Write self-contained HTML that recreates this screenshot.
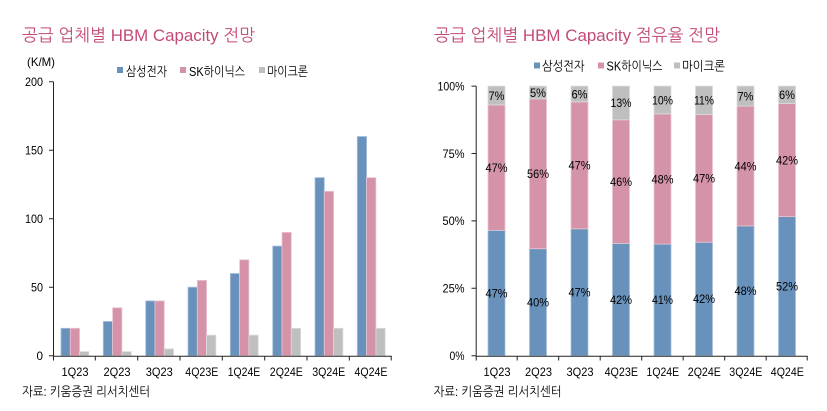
<!DOCTYPE html>
<html><head><meta charset="utf-8"><style>
html,body{margin:0;padding:0;background:#fff;}
svg{display:block;}
text{font-family:"Liberation Sans","NanumGothic","Noto Sans CJK KR",sans-serif;fill:#000;}
.t{fill:#C44A78;font-size:17px;}
.k{font-size:13px;}
.n{font-size:12px;}
.b{fill:#6891BC;stroke:#A9C0DA;stroke-width:0.8;}
.p{fill:#D493A8;stroke:#EBC6D2;stroke-width:0.8;}
.g{fill:#BFBFBF;stroke:#DCDCDC;stroke-width:0.8;}
.ax{stroke:#222;stroke-width:1;fill:none;}
</style></head><body>
<svg width="827" height="411" viewBox="0 0 827 411" xmlns="http://www.w3.org/2000/svg">
<!-- LEFT CHART -->
<text class="t" x="22" y="41" textLength="233" lengthAdjust="spacingAndGlyphs">공급 업체별 HBM Capacity 전망</text>
<text class="n" x="27" y="66" textLength="28" lengthAdjust="spacingAndGlyphs">(K/M)</text>
<rect x="117" y="67" width="6" height="6" fill="#6891BC"/>
<text class="k" x="126" y="76" textLength="41" lengthAdjust="spacingAndGlyphs">삼성전자</text>
<rect x="180" y="67" width="6" height="6" fill="#D493A8"/>
<text class="k" x="189" y="76" textLength="56" lengthAdjust="spacingAndGlyphs">SK하이닉스</text>
<rect x="259" y="67" width="6" height="6" fill="#BFBFBF"/>
<text class="k" x="267" y="76" textLength="41" lengthAdjust="spacingAndGlyphs">마이크론</text>

<!-- bars -->
<rect class="b" x="61.0" y="328.3" width="9.3" height="27.4"/><rect class="p" x="70.3" y="328.3" width="9.3" height="27.4"/><rect class="g" x="79.6" y="351.6" width="9.3" height="4.1"/>
<rect class="b" x="103.3" y="321.45" width="9.3" height="34.25"/><rect class="p" x="112.6" y="307.75" width="9.3" height="47.95"/><rect class="g" x="121.9" y="351.6" width="9.3" height="4.1"/>
<rect class="b" x="145.7" y="300.9" width="9.3" height="54.8"/><rect class="p" x="155.0" y="300.9" width="9.3" height="54.8"/><rect class="g" x="164.3" y="348.85" width="9.3" height="6.85"/>
<rect class="b" x="188.0" y="287.2" width="9.3" height="68.5"/><rect class="p" x="197.3" y="280.35" width="9.3" height="75.35"/><rect class="g" x="206.6" y="335.15" width="9.3" height="20.55"/>
<rect class="b" x="230.3" y="273.5" width="9.3" height="82.2"/><rect class="p" x="239.6" y="259.8" width="9.3" height="95.9"/><rect class="g" x="248.9" y="335.15" width="9.3" height="20.55"/>
<rect class="b" x="272.7" y="246.1" width="9.3" height="109.6"/><rect class="p" x="282.0" y="232.4" width="9.3" height="123.3"/><rect class="g" x="291.3" y="328.3" width="9.3" height="27.4"/>
<rect class="b" x="315.0" y="177.6" width="9.3" height="178.1"/><rect class="p" x="324.3" y="191.3" width="9.3" height="164.4"/><rect class="g" x="333.6" y="328.3" width="9.3" height="27.4"/>
<rect class="b" x="357.3" y="136.5" width="9.3" height="219.2"/><rect class="p" x="366.6" y="177.6" width="9.3" height="178.1"/><rect class="g" x="375.9" y="328.3" width="9.3" height="27.4"/>

<!-- axes -->
<path class="ax" d="M53.5 81.7V356.2M53.5 356.2H391.7"/>
<path class="ax" d="M49 81.7H53.5M49 150.2H53.5M49 218.7H53.5M49 287.2H53.5M49 355.7H53.5"/>
<path class="ax" d="M53.5 356V360.5M95.3 356V360.5M137.7 356V360.5M180 356V360.5M222.3 356V360.5M264.7 356V360.5M307 356V360.5M349.3 356V360.5M391.2 356V360.5"/>
<g class="n" text-anchor="end">
<text x="43" y="86" textLength="18" lengthAdjust="spacingAndGlyphs">200</text>
<text x="43" y="154.5" textLength="18" lengthAdjust="spacingAndGlyphs">150</text>
<text x="43" y="223" textLength="18" lengthAdjust="spacingAndGlyphs">100</text>
<text x="43" y="291.5" textLength="12" lengthAdjust="spacingAndGlyphs">50</text>
<text x="43" y="360" textLength="6.5" lengthAdjust="spacingAndGlyphs">0</text>
</g>
<g class="n" text-anchor="middle">
<text x="75" y="376" textLength="27" lengthAdjust="spacingAndGlyphs">1Q23</text>
<text x="117" y="376" textLength="27" lengthAdjust="spacingAndGlyphs">2Q23</text>
<text x="159.3" y="376" textLength="27" lengthAdjust="spacingAndGlyphs">3Q23</text>
<text x="201.8" y="376" textLength="33" lengthAdjust="spacingAndGlyphs">4Q23E</text>
<text x="244" y="376" textLength="32.5" lengthAdjust="spacingAndGlyphs">1Q24E</text>
<text x="286.3" y="376" textLength="33" lengthAdjust="spacingAndGlyphs">2Q24E</text>
<text x="328.7" y="376" textLength="33" lengthAdjust="spacingAndGlyphs">3Q24E</text>
<text x="371" y="376" textLength="33" lengthAdjust="spacingAndGlyphs">4Q24E</text>
</g>
<text class="k" x="22" y="396" textLength="128" lengthAdjust="spacingAndGlyphs">자료: 키움증권 리서치센터</text>

<!-- RIGHT CHART -->
<text class="t" x="434" y="41" textLength="286" lengthAdjust="spacingAndGlyphs">공급 업체별 HBM Capacity 점유율 전망</text>
<rect x="534" y="62.5" width="6" height="6" fill="#6891BC"/>
<text class="k" x="542" y="70.5" textLength="42.5" lengthAdjust="spacingAndGlyphs">삼성전자</text>
<rect x="598" y="62.5" width="6" height="6" fill="#D493A8"/>
<text class="k" x="606.5" y="70.5" textLength="56" lengthAdjust="spacingAndGlyphs">SK하이닉스</text>
<rect x="674" y="62.5" width="6" height="6" fill="#BFBFBF"/>
<text class="k" x="682" y="70.5" textLength="43" lengthAdjust="spacingAndGlyphs">마이크론</text>

<rect class="b" x="488.0" y="230.3" width="17" height="125.4"/><rect class="p" x="488.0" y="104.9" width="17" height="125.4"/><rect class="g" x="488.0" y="86.1" width="17" height="18.8"/>
<rect class="b" x="529.5" y="248.7" width="17" height="107.0"/><rect class="p" x="529.5" y="98.9" width="17" height="149.8"/><rect class="g" x="529.5" y="86.1" width="17" height="12.8"/>
<rect class="b" x="571.0" y="228.8" width="17" height="126.9"/><rect class="p" x="571.0" y="101.9" width="17" height="126.9"/><rect class="g" x="571.0" y="86.1" width="17" height="15.8"/>
<rect class="b" x="612.5" y="243.4" width="17" height="112.3"/><rect class="p" x="612.5" y="119.8" width="17" height="123.6"/><rect class="g" x="612.5" y="86.1" width="17" height="33.7"/>
<rect class="b" x="654.0" y="244.1" width="17" height="111.6"/><rect class="p" x="654.0" y="113.9" width="17" height="130.2"/><rect class="g" x="654.0" y="86.1" width="17" height="27.8"/>
<rect class="b" x="695.5" y="242.2" width="17" height="113.5"/><rect class="p" x="695.5" y="114.5" width="17" height="127.7"/><rect class="g" x="695.5" y="86.1" width="17" height="28.4"/>
<rect class="b" x="737.0" y="225.9" width="17" height="129.8"/><rect class="p" x="737.0" y="106.1" width="17" height="119.8"/><rect class="g" x="737.0" y="86.1" width="17" height="20.0"/>
<rect class="b" x="778.5" y="216.6" width="17" height="139.1"/><rect class="p" x="778.5" y="103.5" width="17" height="113.1"/><rect class="g" x="778.5" y="86.1" width="17" height="17.4"/>

<g class="n" text-anchor="middle">
<text x="496.5" y="297.3" textLength="22" lengthAdjust="spacingAndGlyphs">47%</text>
<text x="496.5" y="171.9" textLength="22" lengthAdjust="spacingAndGlyphs">47%</text>
<text x="496.5" y="99.8" textLength="16" lengthAdjust="spacingAndGlyphs">7%</text>
<text x="538" y="306.5" textLength="22" lengthAdjust="spacingAndGlyphs">40%</text>
<text x="538" y="178.1" textLength="22" lengthAdjust="spacingAndGlyphs">56%</text>
<text x="538" y="96.8" textLength="16" lengthAdjust="spacingAndGlyphs">5%</text>
<text x="579.5" y="296.5" textLength="22" lengthAdjust="spacingAndGlyphs">47%</text>
<text x="579.5" y="169.6" textLength="22" lengthAdjust="spacingAndGlyphs">47%</text>
<text x="579.5" y="98.3" textLength="16" lengthAdjust="spacingAndGlyphs">6%</text>
<text x="621" y="303.8" textLength="22" lengthAdjust="spacingAndGlyphs">42%</text>
<text x="621" y="185.9" textLength="22" lengthAdjust="spacingAndGlyphs">46%</text>
<text x="621" y="107.2" textLength="21" lengthAdjust="spacingAndGlyphs">13%</text>
<text x="662.5" y="304.2" textLength="21" lengthAdjust="spacingAndGlyphs">41%</text>
<text x="662.5" y="183.3" textLength="22" lengthAdjust="spacingAndGlyphs">48%</text>
<text x="662.5" y="104.3" textLength="21" lengthAdjust="spacingAndGlyphs">10%</text>
<text x="704" y="303.2" textLength="22" lengthAdjust="spacingAndGlyphs">42%</text>
<text x="704" y="182.6" textLength="22" lengthAdjust="spacingAndGlyphs">47%</text>
<text x="704" y="104.6" textLength="20" lengthAdjust="spacingAndGlyphs">11%</text>
<text x="745.5" y="295.1" textLength="22" lengthAdjust="spacingAndGlyphs">48%</text>
<text x="745.5" y="170.3" textLength="22" lengthAdjust="spacingAndGlyphs">44%</text>
<text x="745.5" y="100.4" textLength="16" lengthAdjust="spacingAndGlyphs">7%</text>
<text x="787" y="290.4" textLength="22" lengthAdjust="spacingAndGlyphs">52%</text>
<text x="787" y="164.3" textLength="22" lengthAdjust="spacingAndGlyphs">42%</text>
<text x="787" y="99.1" textLength="16" lengthAdjust="spacingAndGlyphs">6%</text>
</g>

<path class="ax" d="M476.2 86.1V356.2M476.2 356.2H807.7"/>
<path class="ax" d="M471.5 86.1H476.2M471.5 153.5H476.2M471.5 220.9H476.2M471.5 288.3H476.2M471.5 355.7H476.2"/>
<path class="ax" d="M476.2 356V360.5M517.2 356V360.5M558.7 356V360.5M600.2 356V360.5M641.7 356V360.5M683.2 356V360.5M724.7 356V360.5M766.2 356V360.5M807.2 356V360.5"/>
<g class="n" text-anchor="end">
<text x="464.5" y="90.4" textLength="27" lengthAdjust="spacingAndGlyphs">100%</text>
<text x="464.5" y="157.8" textLength="22" lengthAdjust="spacingAndGlyphs">75%</text>
<text x="464.5" y="225.2" textLength="22" lengthAdjust="spacingAndGlyphs">50%</text>
<text x="464.5" y="292.6" textLength="22" lengthAdjust="spacingAndGlyphs">25%</text>
<text x="464.5" y="360" textLength="15" lengthAdjust="spacingAndGlyphs">0%</text>
</g>
<g class="n" text-anchor="middle">
<text x="497" y="376" textLength="27" lengthAdjust="spacingAndGlyphs">1Q23</text>
<text x="538.5" y="376" textLength="27" lengthAdjust="spacingAndGlyphs">2Q23</text>
<text x="580" y="376" textLength="27" lengthAdjust="spacingAndGlyphs">3Q23</text>
<text x="621.3" y="376" textLength="33.4" lengthAdjust="spacingAndGlyphs">4Q23E</text>
<text x="662.8" y="376" textLength="32.5" lengthAdjust="spacingAndGlyphs">1Q24E</text>
<text x="704.3" y="376" textLength="33" lengthAdjust="spacingAndGlyphs">2Q24E</text>
<text x="745.8" y="376" textLength="33" lengthAdjust="spacingAndGlyphs">3Q24E</text>
<text x="787.3" y="376" textLength="33" lengthAdjust="spacingAndGlyphs">4Q24E</text>
</g>
<text class="k" x="433.5" y="396" textLength="128" lengthAdjust="spacingAndGlyphs">자료: 키움증권 리서치센터</text>
</svg>
</body></html>
